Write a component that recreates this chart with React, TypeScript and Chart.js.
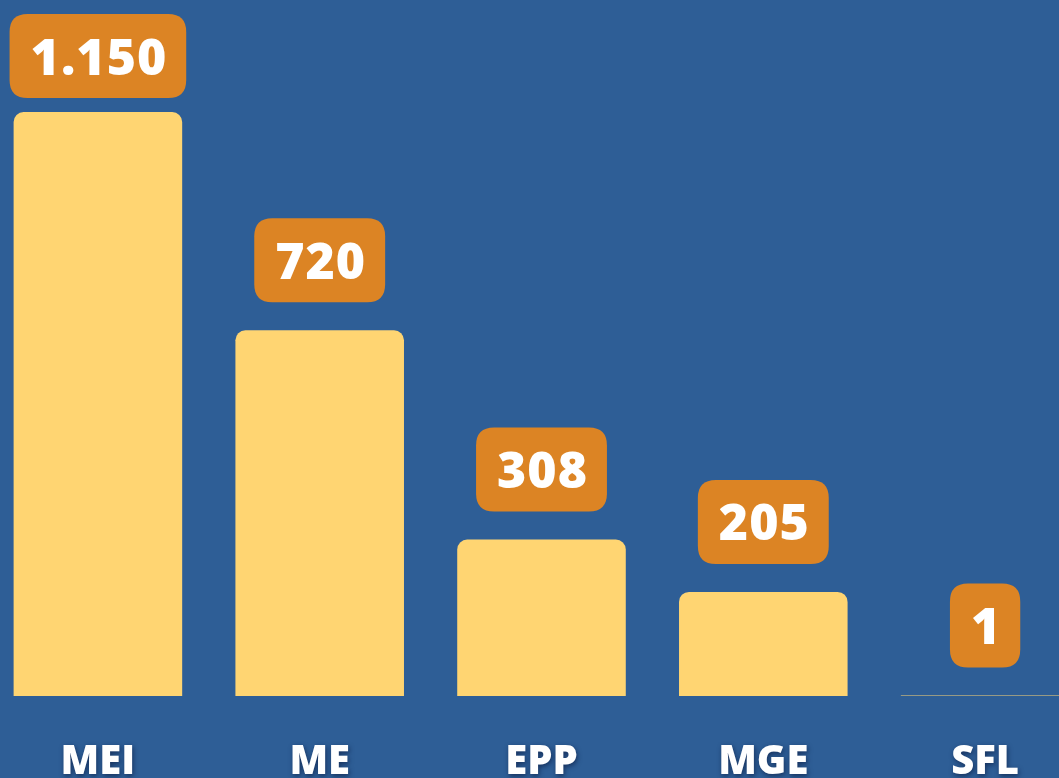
import React, { useEffect, useRef } from "react";
import { Chart, registerables } from "chart.js";

Chart.register(...registerables);

const categories = ["MEI", "ME", "EPP", "MGE", "SFL"];
const values = [1150, 720, 308, 205, 1];

const BG = "#2E5E96";
const BAR = "#FFD572";
const BADGE = "#DC8424";
const FONT = "'Open Sans', 'Noto Sans', sans-serif";

function fmt(n: number): string {
  return String(n).replace(/\B(?=(\d{3})+(?!\d))/g, ".");
}

function roundRect(ctx: CanvasRenderingContext2D, x: number, y: number, w: number, h: number, r: number) {
  ctx.beginPath();
  ctx.moveTo(x + r, y);
  ctx.lineTo(x + w - r, y);
  ctx.quadraticCurveTo(x + w, y, x + w, y + r);
  ctx.lineTo(x + w, y + h - r);
  ctx.quadraticCurveTo(x + w, y + h, x + w - r, y + h);
  ctx.lineTo(x + r, y + h);
  ctx.quadraticCurveTo(x, y + h, x, y + h - r);
  ctx.lineTo(x, y + r);
  ctx.quadraticCurveTo(x, y, x + r, y);
  ctx.closePath();
}

const shadowPlugin = {
  id: "labelShadow",
  beforeDraw(chart: any) {
    const ctx = chart.ctx;
    ctx.shadowColor = "rgba(15, 35, 75, 0.75)";
    ctx.shadowBlur = 5;
    ctx.shadowOffsetX = 1;
    ctx.shadowOffsetY = 2;
  },
  beforeDatasetsDraw(chart: any) {
    const ctx = chart.ctx;
    ctx.shadowColor = "rgba(0,0,0,0)";
    ctx.shadowBlur = 0;
    ctx.shadowOffsetX = 0;
    ctx.shadowOffsetY = 0;
  },
};

const badgePlugin = {
  id: "badges",
  afterDatasetsDraw(chart: any) {
    const ctx: CanvasRenderingContext2D = chart.ctx;
    const meta = chart.getDatasetMeta(0);
    const data = chart.data.datasets[0].data as number[];
    ctx.save();
    ctx.font = `800 50px ${FONT}`;
    (ctx as any).letterSpacing = "1px";
    const asc = ctx.measureText("0").actualBoundingBoxAscent;
    meta.data.forEach((bar: any, i: number) => {
      const text = fmt(data[i]);
      const tw = ctx.measureText(text).width;
      const w = tw + 40;
      const h = 84;
      let bottom = bar.y - 28;
      let top = bottom - h;
      if (top < 14) {
        top = 14;
        bottom = top + h;
      }
      const cx = bar.x;
      ctx.fillStyle = BADGE;
      roundRect(ctx, cx - w / 2, top, w, h, 18);
      ctx.fill();
      ctx.fillStyle = "#FFFFFF";
      ctx.textAlign = "center";
      ctx.textBaseline = "alphabetic";
      ctx.fillText(text, cx + 1, top + h / 2 + asc / 2);
    });
    ctx.restore();
  },
};

export default function App() {
  const ref = useRef<HTMLCanvasElement | null>(null);

  useEffect(() => {
    document.body.style.margin = "0";
    const canvas = ref.current!;
    const chart = new Chart(canvas, {
      type: "bar",
      data: {
        labels: categories,
        datasets: [
          {
            data: values,
            backgroundColor: BAR,
            borderWidth: 0,
            borderRadius: { topLeft: 10, topRight: 10, bottomLeft: 0, bottomRight: 0 },
            borderSkipped: "bottom",
            barPercentage: 0.76,
            categoryPercentage: 1,
          },
        ],
      },
      options: {
        responsive: false,
        animation: false,
        devicePixelRatio: 1,
        layout: { padding: { top: 112, left: 0, right: 0, bottom: 0 } },
        plugins: {
          legend: { display: false },
          tooltip: { enabled: false },
        },
        scales: {
          x: {
            offset: true,
            grid: { display: false, drawTicks: false },
            border: { display: false },
            ticks: {
              color: "#FFFFFF",
              font: { family: FONT, size: 40, weight: "800" },
              padding: 43,
            },
          },
          y: {
            display: false,
            beginAtZero: true,
            min: 0,
            max: Math.max(...values),
          },
        },
      },
      plugins: [shadowPlugin, badgePlugin],
    });
    return () => chart.destroy();
  }, []);

  return (
    <div
      style={{
        position: "fixed",
        left: 0,
        top: 0,
        width: 1059,
        height: 778,
        overflow: "hidden",
        background: BG,
      }}
    >
      <div style={{ position: "absolute", left: -13, top: 0, width: 1109, height: 830 }}>
        <canvas ref={ref} width={1109} height={830} style={{ display: "block" }} />
      </div>
    </div>
  );
}
